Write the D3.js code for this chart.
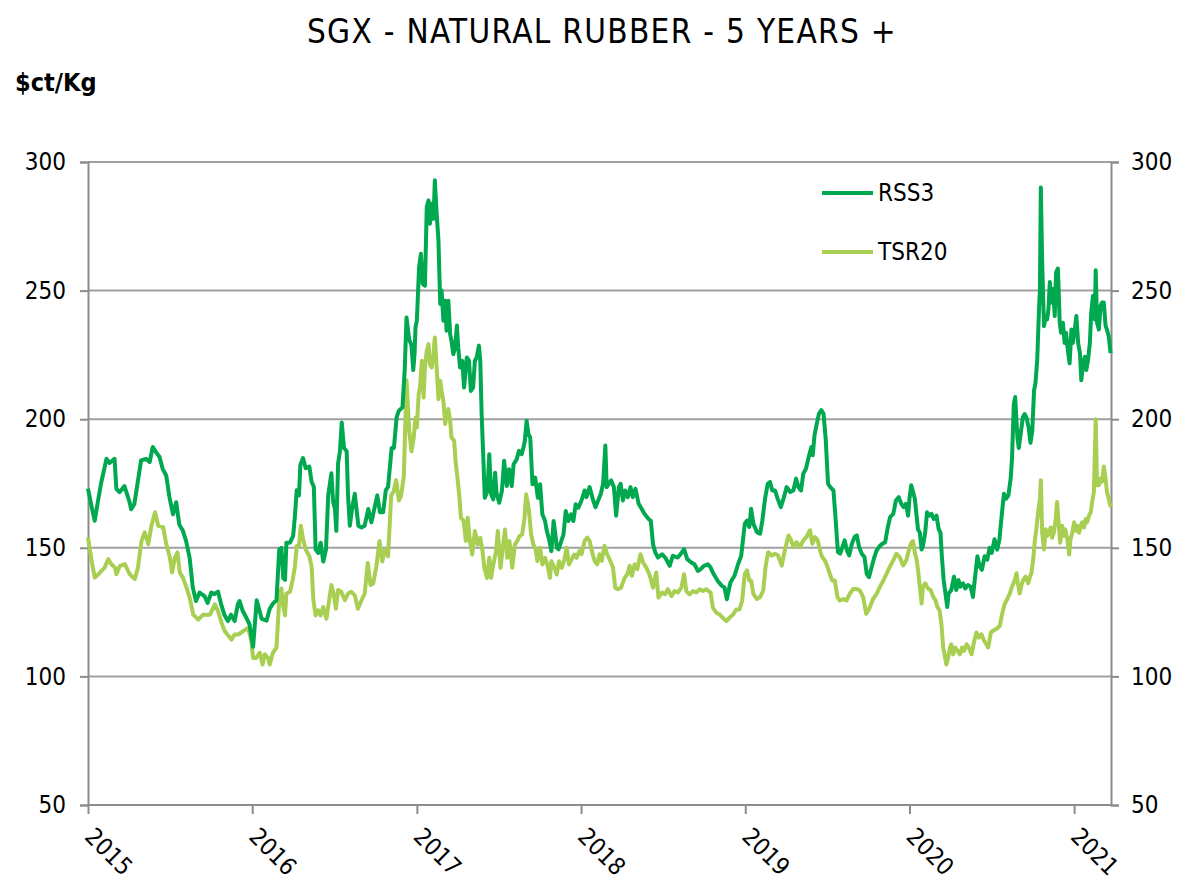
<!DOCTYPE html>
<html>
<head>
<meta charset="utf-8">
<script src="https://d3js.org/d3.v7.min.js"></script>
<style>
  body { margin: 0; background: #fff; }
  text { font-family: "DejaVu Sans Condensed", "DejaVu Sans", sans-serif; fill: #000; }
  .grid line { stroke: #a0a0a0; stroke-width: 2; }
  .axis path, .axis line { stroke: #8c8c8c; stroke-width: 2; fill: none; }
  .axis text { font-size: 24px; }
</style>
</head>
<body>
<script>
// ---- data ($ct/Kg) ----
const title = "SGX - NATURAL RUBBER - 5 YEARS +";
const unitLabel = "$ct/Kg";
const seriesNames = ["RSS3", "TSR20"];
const seriesColors = ["#00a84f", "#a8cf52"];
const yTicks = [50, 100, 150, 200, 250, 300];
const xTickYears = [2015, 2016, 2017, 2018, 2019, 2020, 2021];
const xStart = "2015-01-01", xEnd = "2021-03-24";

const rss3 = [
  ["2015-01-01",173],["2015-01-09",166],["2015-01-16",160.5],["2015-01-23",168],["2015-01-30",175],
  ["2015-02-11",184.6],["2015-02-18",183],["2015-03-01",184.6],["2015-03-05",173],["2015-03-12",171.6],
  ["2015-03-23",174],["2015-04-03",168],["2015-04-07",165],["2015-04-14",167],["2015-04-22",176],
  ["2015-04-29",184],["2015-05-10",184.6],["2015-05-18",183.3],["2015-05-25",189.2],["2015-06-02",187],
  ["2015-06-09",185.3],["2015-06-16",180.7],["2015-06-24",178],["2015-07-01",169.7],["2015-07-09",163],
  ["2015-07-16",167.7],["2015-07-23",159],["2015-07-31",156.6],["2015-08-07",152.7],["2015-08-15",146],
  ["2015-08-22",134.5],["2015-08-29",129.3],["2015-09-06",132.6],["2015-09-17",131.2],["2015-09-24",128.6],
  ["2015-10-02",132.6],["2015-10-09",132],["2015-10-17",133],["2015-10-24",128],["2015-10-31",124],
  ["2015-11-08",121.5],["2015-11-15",124],["2015-11-23",121.5],["2015-11-30",128],["2015-12-04",129.3],
  ["2015-12-11",125.4],["2015-12-19",122.8],["2015-12-26",120.2],
  ["2016-01-03",111.5],["2016-01-11",129.6],["2016-01-22",122.4],["2016-02-02",121.7],["2016-02-09",126.3],
  ["2016-02-16",128.3],["2016-02-24",129.6],["2016-03-01",149.3],["2016-03-06",150],["2016-03-10",138.2],
  ["2016-03-14",137.5],["2016-03-17",152],["2016-03-25",152],["2016-04-01",154.6],["2016-04-05",162.5],
  ["2016-04-09",172.4],["2016-04-14",170.4],["2016-04-17",182.2],["2016-04-23",184.9],["2016-04-29",180.9],
  ["2016-05-07",181.6],["2016-05-12",175.7],["2016-05-17",173.7],["2016-05-21",149.3],["2016-05-27",148],
  ["2016-06-01",152],["2016-06-07",144.7],["2016-06-13",149.3],["2016-06-18",170.4],["2016-06-25",179],
  ["2016-06-29",167.8],["2016-07-03",165.1],["2016-07-06",156.6],["2016-07-10",182.9],["2016-07-14",187.5],
  ["2016-07-18",198.7],["2016-07-23",188.8],["2016-07-29",187.5],["2016-08-01",170.4],["2016-08-05",158.6],
  ["2016-08-10",165.1],["2016-08-16",171],["2016-08-24",158.6],["2016-08-31",157.9],["2016-09-07",158.6],
  ["2016-09-15",165.1],["2016-09-22",159.9],["2016-09-30",166.4],["2016-10-05",170.4],["2016-10-11",163.8],
  ["2016-10-18",163.8],["2016-10-24",172.4],["2016-10-29",173.7],["2016-11-06",188.8],["2016-11-11",188.8],
  ["2016-11-17",200.7],["2016-11-22",203.3],["2016-11-30",204.6],["2016-12-05",219.1],["2016-12-09",239.5],
  ["2016-12-15",230.9],["2016-12-20",228.9],["2016-12-24",219.1],["2016-12-27",225.7],["2016-12-29",235.7],
  ["2017-01-01",238.3],["2017-01-06",259.1],["2017-01-10",264.3],["2017-01-14",252.6],["2017-01-19",251.9],
  ["2017-01-23",282.5],["2017-01-27",285.1],["2017-01-30",276],["2017-02-03",283.8],["2017-02-07",277.9],
  ["2017-02-10",292.9],["2017-02-14",279.9],["2017-02-18",269.5],["2017-02-22",244.8],["2017-02-25",250],
  ["2017-03-01",238.3],["2017-03-05",246.1],["2017-03-08",234.4],["2017-03-12",246.1],["2017-03-16",233.1],
  ["2017-03-19",230.5],["2017-03-23",225.3],["2017-03-27",227.9],["2017-03-31",236.4],["2017-04-03",227.9],
  ["2017-04-07",220.1],["2017-04-12",222.7],["2017-04-16",212.3],["2017-04-22",224],["2017-04-27",222.7],
  ["2017-05-01",211],["2017-05-06",212.3],["2017-05-10",222.7],["2017-05-14",224],["2017-05-19",228.6],
  ["2017-05-22",222.7],["2017-05-25",201.9],["2017-05-29",183.8],["2017-06-01",169.5],["2017-06-07",172.1],
  ["2017-06-11",186.4],["2017-06-15",170.8],["2017-06-20",168.8],["2017-06-24",179.2],["2017-06-27",171.4],
  ["2017-07-03",167.5],["2017-07-09",172.1],["2017-07-14",183.8],["2017-07-20",174],["2017-07-25",180.5],
  ["2017-07-31",174],["2017-08-04",182.5],["2017-08-11",184.4],["2017-08-16",187.7],["2017-08-22",186.4],
  ["2017-08-26",189],["2017-08-29",191.6],["2017-09-02",199.4],["2017-09-06",194.2],["2017-09-10",192.9],
  ["2017-09-15",174.7],["2017-09-21",177.3],["2017-09-27",169.5],["2017-10-02",174.7],["2017-10-07",163],
  ["2017-10-13",160.4],["2017-10-17",156.5],["2017-10-22",153.2],["2017-10-27",148.7],["2017-11-01",160.4],
  ["2017-11-05",155.2],["2017-11-08",150],["2017-11-12",149.4],["2017-11-18",152.6],["2017-11-23",155.2],
  ["2017-11-28",164.3],["2017-12-04",160.4],["2017-12-10",163],["2017-12-15",160.4],["2017-12-20",166.9],
  ["2017-12-26",165.6],
  ["2018-01-02",168.4],["2018-01-09",172.3],["2018-01-13",169.7],["2018-01-20",173.6],["2018-01-28",168.4],
  ["2018-02-02",165.8],["2018-02-08",168.4],["2018-02-14",171],["2018-02-19",174.9],["2018-02-24",189.8],
  ["2018-02-27",173.6],["2018-03-09",176.2],["2018-03-15",173.6],["2018-03-20",162.5],["2018-03-26",173.6],
  ["2018-03-30",174.9],["2018-04-04",168.4],["2018-04-09",172.3],["2018-04-15",169.7],["2018-04-21",173.6],
  ["2018-04-26",169.7],["2018-05-02",172.9],["2018-05-09",167.1],["2018-05-16",165.1],["2018-05-22",163.2],
  ["2018-05-31",161.2],["2018-06-05",160.5],["2018-06-10",151.4],["2018-06-15",148.2],["2018-06-21",146.2],
  ["2018-06-30",147.5],["2018-07-07",146.2],["2018-07-17",143],["2018-07-24",146.9],["2018-08-04",146.2],
  ["2018-08-13",148.2],["2018-08-18",149.5],["2018-08-25",145.6],["2018-09-03",144.3],["2018-09-10",143.6],
  ["2018-09-18",141],["2018-09-24",141.7],["2018-10-01",143],["2018-10-10",143.6],["2018-10-16",142.3],
  ["2018-10-23",139.7],["2018-11-01",137.1],["2018-11-10",135.2],["2018-11-16",134.5],["2018-11-21",130],
  ["2018-11-29",136.5],["2018-12-08",139.1],["2018-12-16",143.6],["2018-12-23",146.9],["2018-12-31",159.4],
  ["2019-01-05",160.6],["2019-01-10",158.1],["2019-01-14",165.2],["2019-01-19",159.4],["2019-01-27",156.1],
  ["2019-02-03",155.5],["2019-02-08",160.6],["2019-02-14",169.1],["2019-02-20",174.9],["2019-02-25",175.6],
  ["2019-03-02",172.3],["2019-03-08",172.3],["2019-03-14",169.1],["2019-03-21",165.8],["2019-03-27",169.1],
  ["2019-04-03",173.6],["2019-04-11",171.7],["2019-04-18",172.3],["2019-04-24",176.9],["2019-04-29",173.6],
  ["2019-05-05",172.3],["2019-05-10",178.8],["2019-05-16",180.8],["2019-05-22",185.3],["2019-05-28",189.2],
  ["2019-05-31",186],["2019-06-04",193.8],["2019-06-09",198.3],["2019-06-14",202.2],["2019-06-19",203.5],
  ["2019-06-24",202.2],["2019-06-29",191.8],["2019-07-04",174.9],["2019-07-09",173.6],["2019-07-16",172.3],
  ["2019-07-20",163.2],["2019-07-26",148.3],["2019-07-31",147.7],["2019-08-05",150.3],["2019-08-10",152.9],
  ["2019-08-15",149],["2019-08-20",147],["2019-08-26",151.6],["2019-09-01",154.2],["2019-09-06",154.8],
  ["2019-09-11",150.3],["2019-09-17",147.7],["2019-09-23",146.4],["2019-09-28",139.9],["2019-10-03",138.6],
  ["2019-10-09",142.5],["2019-10-15",146.4],["2019-10-20",149],["2019-10-28",150.9],["2019-11-02",151.6],
  ["2019-11-08",152.2],["2019-11-14",158.1],["2019-11-19",161.9],["2019-11-26",163.2],["2019-12-02",168.4],
  ["2019-12-08",169.7],["2019-12-14",167.1],["2019-12-19",165.8],["2019-12-24",167.1],["2019-12-29",162.5],
  ["2020-01-01",169.1],["2020-01-05",174.3],["2020-01-09",171.7],["2020-01-13",169.1],["2020-01-16",163.8],
  ["2020-01-20",157.2],["2020-01-24",155.9],["2020-01-28",149.3],["2020-01-31",150.7],["2020-02-05",155.9],
  ["2020-02-09",163.8],["2020-02-14",162.5],["2020-02-19",163.2],["2020-02-24",161.2],["2020-03-01",162.5],
  ["2020-03-06",157.2],["2020-03-10",155.9],["2020-03-13",146.7],["2020-03-17",137.5],["2020-03-20",133.6],
  ["2020-03-25",127],["2020-03-28",132.2],["2020-04-03",133.6],["2020-04-09",138.8],["2020-04-14",133.6],
  ["2020-04-19",137.5],["2020-04-23",134.9],["2020-04-29",136.2],["2020-05-04",134.2],["2020-05-10",135.5],
  ["2020-05-16",134.9],["2020-05-21",130.9],["2020-05-26",138.8],["2020-05-31",146.7],["2020-06-05",142.8],
  ["2020-06-10",141.4],["2020-06-16",146.7],["2020-06-22",145.4],["2020-06-27",150],["2020-07-02",148],
  ["2020-07-08",153.3],["2020-07-14",149.3],["2020-07-19",153.3],["2020-07-24",162.5],["2020-07-29",171],
  ["2020-08-03",169.1],["2020-08-08",170.4],["2020-08-13",177],["2020-08-16",184.9],["2020-08-20",205.9],
  ["2020-08-23",208.6],["2020-08-28",192.8],["2020-08-31",188.8],["2020-09-04",194.1],["2020-09-09",200.7],
  ["2020-09-13",202],["2020-09-17",200.7],["2020-09-22",196.7],["2020-09-26",190.8],["2020-09-30",195.4],
  ["2020-10-04",211.2],["2020-10-07",213.8],["2020-10-11",223],["2020-10-15",242.8],["2020-10-17",250.7],
  ["2020-10-19",290.1],["2020-10-22",261.2],["2020-10-26",236.2],["2020-10-30",240.1],["2020-11-02",238.8],
  ["2020-11-05",242.8],["2020-11-08",253.3],["2020-11-11",245.4],["2020-11-15",250.7],["2020-11-19",240.1],
  ["2020-11-22",257.2],["2020-11-26",258.6],["2020-11-30",237.5],["2020-12-03",233.6],["2020-12-07",237.5],
  ["2020-12-11",229.6],["2020-12-14",233.6],["2020-12-18",227],["2020-12-22",221.7],["2020-12-26",234.9],
  ["2020-12-29",229.6],
  ["2021-01-02",234.2],["2021-01-06",240.1],["2021-01-10",229.6],["2021-01-14",225.7],["2021-01-17",215.1],
  ["2021-01-21",221.7],["2021-01-25",224.3],["2021-01-28",219.1],["2021-02-01",223],["2021-02-05",229.6],
  ["2021-02-08",241.4],["2021-02-12",248],["2021-02-16",238.8],["2021-02-18",257.9],["2021-02-21",237.5],
  ["2021-02-25",234.9],["2021-03-01",244.1],["2021-03-04",245.4],["2021-03-08",245.4],["2021-03-12",236.2],
  ["2021-03-15",234.9],["2021-03-19",232.2],["2021-03-23",225.7]
];

const tsr20 = [
  ["2015-01-01",154],["2015-01-09",145],["2015-01-16",138.4],["2015-01-24",139.7],["2015-01-31",141],
  ["2015-02-07",142.3],["2015-02-15",145.6],["2015-02-22",143.6],["2015-03-02",142.3],["2015-03-05",139.7],
  ["2015-03-13",143],["2015-03-24",143.6],["2015-04-04",139.7],["2015-04-15",137.8],["2015-04-22",142.3],
  ["2015-04-30",152.7],["2015-05-07",156],["2015-05-15",151.4],["2015-05-22",158.6],["2015-05-30",163.8],
  ["2015-06-06",158.6],["2015-06-17",158],["2015-06-24",151.4],["2015-07-02",146.2],["2015-07-07",140.4],
  ["2015-07-13",146.2],["2015-07-19",148.2],["2015-07-24",140.4],["2015-07-31",138.4],["2015-08-08",134.5],
  ["2015-08-15",130.6],["2015-08-23",124],["2015-09-03",122.1],["2015-09-14",124],["2015-09-29",124],
  ["2015-10-10",128],["2015-10-17",125.4],["2015-10-25",120.8],["2015-11-01",117.6],["2015-11-16",114.3],
  ["2015-11-23",116.3],["2015-12-01",116.3],["2015-12-12",117.6],["2015-12-23",118.9],["2015-12-30",113.7],
  ["2016-01-03",107.2],["2016-01-10",107.2],["2016-01-18",109.2],["2016-01-24",104.6],["2016-01-29",108.6],
  ["2016-02-05",107.2],["2016-02-09",104.6],["2016-02-16",109.2],["2016-02-24",111.2],["2016-03-01",129.6],
  ["2016-03-06",134.2],["2016-03-10",127],["2016-03-14",123.7],["2016-03-17",132.2],["2016-03-25",132.9],
  ["2016-03-31",137.5],["2016-04-05",142.8],["2016-04-09",150.7],["2016-04-14",150.7],["2016-04-18",158.6],
  ["2016-04-23",153.3],["2016-04-29",149.3],["2016-05-07",146.7],["2016-05-12",142.8],["2016-05-16",129.6],
  ["2016-05-21",123.7],["2016-05-27",125.7],["2016-06-01",123.7],["2016-06-07",127],["2016-06-14",122.4],
  ["2016-06-20",129.6],["2016-06-25",135.5],["2016-06-30",132.2],["2016-07-05",126.3],["2016-07-10",133.6],
  ["2016-07-17",132.9],["2016-07-25",129.6],["2016-08-01",132.2],["2016-08-08",132.9],["2016-08-16",131.6],
  ["2016-08-23",126.3],["2016-08-31",129.6],["2016-09-07",132.2],["2016-09-14",144.1],["2016-09-20",135.5],
  ["2016-09-26",136.2],["2016-10-03",142.8],["2016-10-10",152.6],["2016-10-16",144.7],["2016-10-22",149.3],
  ["2016-10-29",146.7],["2016-11-05",170.4],["2016-11-10",171.7],["2016-11-16",176.3],["2016-11-22",168.4],
  ["2016-11-27",170.4],["2016-12-03",177.6],["2016-12-09",215.1],["2016-12-15",195.4],["2016-12-20",187.5],
  ["2016-12-25",192.8],["2016-12-29",200.6],
  ["2017-01-01",196.8],["2017-01-05",209.7],["2017-01-08",212.3],["2017-01-12",222.7],["2017-01-16",208.4],
  ["2017-01-19",220.1],["2017-01-23",226.6],["2017-01-27",229.2],["2017-01-30",221.4],["2017-02-03",220.1],
  ["2017-02-07",225.3],["2017-02-10",231.8],["2017-02-14",220.1],["2017-02-18",207.8],["2017-02-22",214.9],
  ["2017-02-25",211],["2017-03-01",207.1],["2017-03-05",198.1],["2017-03-08",201.9],["2017-03-12",203.9],
  ["2017-03-16",199.4],["2017-03-19",192.9],["2017-03-25",191.6],["2017-03-28",183.8],["2017-04-02",176],
  ["2017-04-05",170.8],["2017-04-09",161.7],["2017-04-15",160.4],["2017-04-20",152.6],["2017-04-24",161.7],
  ["2017-04-29",152.6],["2017-05-04",147.4],["2017-05-10",156.5],["2017-05-16",151.3],["2017-05-22",153.9],
  ["2017-05-27",148.7],["2017-05-31",142.2],["2017-06-06",138.3],["2017-06-11",146.1],["2017-06-15",138.3],
  ["2017-06-20",143.5],["2017-06-26",148.7],["2017-06-30",156.5],["2017-07-06",142.2],["2017-07-11",150],
  ["2017-07-16",157.1],["2017-07-21",146.1],["2017-07-26",152.6],["2017-08-01",142.2],["2017-08-07",151.3],
  ["2017-08-12",152.6],["2017-08-17",154.5],["2017-08-23",155.2],["2017-08-28",161],["2017-09-01",170.8],
  ["2017-09-05",166.9],["2017-09-08",163],["2017-09-12",155.2],["2017-09-17",151.3],["2017-09-22",149.4],
  ["2017-09-26",144.8],["2017-10-02",150],["2017-10-07",143.5],["2017-10-13",146.1],["2017-10-18",143.5],
  ["2017-10-24",138.3],["2017-10-27",144.8],["2017-11-03",142.2],["2017-11-08",139.6],["2017-11-13",144.8],
  ["2017-11-19",142.2],["2017-11-25",145.5],["2017-11-30",150],["2017-12-05",143.5],["2017-12-11",145.5],
  ["2017-12-17",147.4],["2017-12-22",146.1],["2017-12-28",148.7],
  ["2018-01-02",147.5],["2018-01-09",152.7],["2018-01-15",154],["2018-01-20",152.7],["2018-01-25",148.8],
  ["2018-01-31",144.9],["2018-02-06",143.6],["2018-02-11",147.5],["2018-02-16",144.9],["2018-02-22",150.8],
  ["2018-02-28",147.5],["2018-03-07",144.9],["2018-03-13",142.3],["2018-03-18",134.5],["2018-03-24",133.9],
  ["2018-03-31",134.5],["2018-04-08",138.4],["2018-04-14",139.7],["2018-04-19",143],["2018-04-24",139.1],
  ["2018-04-30",143.6],["2018-05-06",141.7],["2018-05-13",147.5],["2018-05-19",144.3],["2018-05-26",142.3],
  ["2018-06-02",139.7],["2018-06-10",134.5],["2018-06-17",140.4],["2018-06-22",130.6],["2018-06-30",132.6],
  ["2018-07-07",131.9],["2018-07-13",133.9],["2018-07-21",131.2],["2018-07-28",133.2],["2018-08-04",132.6],
  ["2018-08-12",134.5],["2018-08-18",139.7],["2018-08-23",133.2],["2018-08-30",131.9],["2018-09-07",133.2],
  ["2018-09-14",132.6],["2018-09-22",133.9],["2018-09-29",133.2],["2018-10-06",133.9],["2018-10-16",132.6],
  ["2018-10-21",126.7],["2018-10-29",124.7],["2018-11-05",124.1],["2018-11-12",122.8],["2018-11-20",121.5],
  ["2018-11-27",122.8],["2018-12-05",124.1],["2018-12-12",126],["2018-12-19",126],["2018-12-25",129.3],
  ["2018-12-31",139.9],
  ["2019-01-05",141.2],["2019-01-10",137.3],["2019-01-14",137.3],["2019-01-19",132.1],["2019-01-27",130.1],
  ["2019-02-03",130.8],["2019-02-10",133.4],["2019-02-15",142.5],["2019-02-21",148.3],["2019-03-01",147],
  ["2019-03-08",147.7],["2019-03-15",147],["2019-03-23",143.1],["2019-03-30",149],["2019-04-07",154.8],
  ["2019-04-13",152.9],["2019-04-18",150.3],["2019-04-25",152.2],["2019-05-03",150.3],["2019-05-10",152.9],
  ["2019-05-17",154.2],["2019-05-25",156.8],["2019-05-30",151.6],["2019-06-05",154.2],["2019-06-11",152.9],
  ["2019-06-16",149],["2019-06-21",146.4],["2019-06-27",145.1],["2019-07-03",142.5],["2019-07-08",139.9],
  ["2019-07-13",137.3],["2019-07-19",137.3],["2019-07-25",130.8],["2019-07-30",129.5],["2019-08-07",130.1],
  ["2019-08-14",129.5],["2019-08-21",132.1],["2019-08-29",134],["2019-09-05",134],["2019-09-13",133.4],
  ["2019-09-20",130.8],["2019-09-27",124.3],["2019-10-05",126.9],["2019-10-12",130.1],["2019-10-20",132.1],
  ["2019-10-27",134.7],["2019-11-04",137.3],["2019-11-11",139.9],["2019-11-18",142.5],["2019-11-26",145.1],
  ["2019-12-03",147.7],["2019-12-10",146.4],["2019-12-18",143.1],["2019-12-25",145.1],["2019-12-29",148],
  ["2020-01-05",152],["2020-01-09",152.6],["2020-01-13",148],["2020-01-17",145.4],["2020-01-20",141.4],
  ["2020-01-24",134.9],["2020-01-28",128.3],["2020-01-31",134.9],["2020-02-05",136.2],["2020-02-11",134.2],
  ["2020-02-17",133.6],["2020-02-23",130.9],["2020-02-28",129.6],["2020-03-03",127],["2020-03-08",125.7],
  ["2020-03-12",120.4],["2020-03-16",111.2],["2020-03-19",108.6],["2020-03-23",104.6],["2020-03-27",107.2],
  ["2020-03-31",111.2],["2020-04-03",112.5],["2020-04-07",108.6],["2020-04-12",111.2],["2020-04-17",109.9],
  ["2020-04-22",108.6],["2020-04-27",111.2],["2020-05-01",109.9],["2020-05-07",112.5],["2020-05-12",111.2],
  ["2020-05-18",108.6],["2020-05-24",113.8],["2020-05-29",117.1],["2020-06-03",115.1],["2020-06-09",116.4],
  ["2020-06-15",113.8],["2020-06-20",112.5],["2020-06-24",111.2],["2020-06-30",117.1],["2020-07-05",117.8],
  ["2020-07-12",118.4],["2020-07-20",119.7],["2020-07-25",124.3],["2020-07-31",128.3],["2020-08-06",130.3],
  ["2020-08-11",132.2],["2020-08-16",134.9],["2020-08-22",137.5],["2020-08-26",140.1],["2020-08-29",136.2],
  ["2020-09-02",132.2],["2020-09-06",135.5],["2020-09-10",137.5],["2020-09-15",138.8],["2020-09-21",136.2],
  ["2020-09-25",138.8],["2020-09-28",140.1],["2020-10-02",145.4],["2020-10-06",153.3],["2020-10-09",157.2],
  ["2020-10-13",163.8],["2020-10-17",169.1],["2020-10-19",176.3],["2020-10-22",155.9],["2020-10-26",149.3],
  ["2020-10-30",157.2],["2020-11-02",154.6],["2020-11-06",155.9],["2020-11-10",157.9],["2020-11-13",153.9],
  ["2020-11-17",155.9],["2020-11-21",161.2],["2020-11-24",167.8],["2020-11-27",161.2],["2020-12-01",152],
  ["2020-12-05",158.6],["2020-12-09",154.6],["2020-12-12",157.2],["2020-12-17",153.3],["2020-12-21",147.4],
  ["2020-12-24",153.3],["2020-12-28",155.9],
  ["2021-01-01",159.9],["2021-01-05",156.6],["2021-01-08",158.6],["2021-01-12",155.9],["2021-01-16",158.6],
  ["2021-01-19",159.9],["2021-01-23",157.9],["2021-01-27",161.2],["2021-01-30",159.9],["2021-02-03",162.5],
  ["2021-02-07",163.8],["2021-02-10",167.8],["2021-02-14",171.7],["2021-02-18",200],["2021-02-21",174.3],
  ["2021-02-25",174.3],["2021-03-01",176.9],["2021-03-04",175.7],["2021-03-08",181.6],["2021-03-12",176.9],
  ["2021-03-15",171.7],["2021-03-19",169.1],["2021-03-23",165.8]
];

// ---- layout ----
const W = 1186, H = 882;
const margin = {left: 88, right: 75, top: 162, bottom: 77};
const parse = d3.timeParse("%Y-%m-%d");

const svg = d3.select("body").append("svg")
    .attr("width", W)
    .attr("height", H);

const x = d3.scaleTime()
    .domain([parse(xStart), parse(xEnd)])
    .range([margin.left, W - margin.right]);

const y = d3.scaleLinear()
    .domain([yTicks[0], yTicks[yTicks.length - 1]])
    .range([H - margin.bottom, margin.top]);

// horizontal gridlines
svg.append("g").attr("class", "grid")
    .selectAll("line")
    .data(yTicks.slice(1))
    .join("line")
    .attr("x1", margin.left)
    .attr("x2", W - margin.right)
    .attr("y1", d => y(d))
    .attr("y2", d => y(d));

// left and right value axes
svg.append("g").attr("class", "axis")
    .attr("transform", "translate(" + margin.left + ",0)")
    .call(d3.axisLeft(y).tickValues(yTicks).tickSize(8).tickPadding(14).tickFormat(d3.format("d")));

svg.append("g").attr("class", "axis")
    .attr("transform", "translate(" + (W - margin.right) + ",0)")
    .call(d3.axisRight(y).tickValues(yTicks).tickSize(8).tickPadding(12).tickFormat(d3.format("d")));

// time axis
const xAxis = svg.append("g").attr("class", "axis")
    .attr("transform", "translate(0," + (H - margin.bottom) + ")")
    .call(d3.axisBottom(x)
        .tickValues(xTickYears.map(yr => new Date(yr, 0, 1)))
        .tickSize(9)
        .tickFormat(d3.timeFormat("%Y")));
xAxis.select(".domain").attr("d", "M" + margin.left + ",0H" + (W - margin.right));
xAxis.selectAll("text")
    .attr("y", 0).attr("dy", 0)
    .attr("transform", "translate(-5,33) rotate(45)")
    .style("text-anchor", "start");

// lines (TSR20 first so RSS3 sits on top)
const line = d3.line()
    .x(d => x(parse(d[0])))
    .y(d => y(d[1]));

[tsr20, rss3].forEach((s, i) => {
    svg.append("path")
        .datum(s)
        .attr("fill", "none")
        .attr("stroke", seriesColors[1 - i])
        .attr("stroke-width", 4)
        .attr("stroke-linejoin", "round")
        .attr("d", line);
});

// legend
const legend = svg.append("g").attr("transform", "translate(822,193)");
seriesNames.forEach((name, i) => {
    const g = legend.append("g").attr("transform", "translate(0," + i * 59 + ")");
    g.append("line")
        .attr("x1", 0).attr("x2", 51)
        .attr("stroke", seriesColors[i])
        .attr("stroke-width", 4);
    g.append("text")
        .attr("x", 56).attr("y", 0).attr("dy", "0.35em")
        .style("font-size", "24px")
        .text(name);
});

// titles
svg.append("text")
    .attr("x", 602).attr("y", 43)
    .attr("text-anchor", "middle")
    .style("font-size", "33px")
    .style("letter-spacing", "1.3px")
    .text(title);

svg.append("text")
    .attr("x", 15).attr("y", 91)
    .style("font-size", "25px")
    .style("font-weight", "bold")
    .text(unitLabel);
</script>
</body>
</html>
